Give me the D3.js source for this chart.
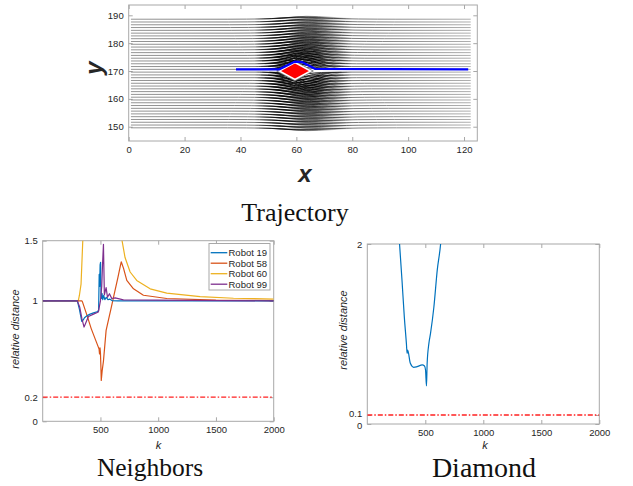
<!DOCTYPE html>
<html><head><meta charset="utf-8">
<script src="https://cdn.jsdelivr.net/npm/d3@7"></script>
<style>body{margin:0;background:#fff}svg{display:block}</style>
</head><body><svg id="c" width="633" height="486"></svg>
<script>
// ---------------- DATA ----------------
// Trajectory panel
const trajXTicks = [0, 20, 40, 60, 80, 100, 120];
const trajYTicks = [150, 160, 170, 180, 190];
const laneY = [149.6,150.6,151.6,152.6,153.6,154.6,155.6,156.6,157.6,158.6,
               159.6,160.6,161.6,162.6,163.6,164.6,165.6,166.6,167.6,168.6,
               169.6,170.6,171.6,172.6,173.6,174.6,175.6,176.6,177.6,178.6,
               179.6,180.6,181.6,182.6,183.6,184.6,185.6,186.6,187.6,188.6];
const laneExtent = [0.8, 122.4];
const corridorCenter = 170.1;
// deflection profile around obstacle
const bumpX     = [38, 44, 48, 52, 56, 60, 64, 68, 72, 76, 80, 86, 92];
const bumpShape = [0, 0.04, 0.12, 0.3, 0.65, 1, 0.9, 0.65, 0.4, 0.22, 0.1, 0.03, 0];
const bandOffset = [0.5, 1.5, 3, 5, 8, 12, 16, 19];
const bandAmp    = [2.8, 2.6, 2.3, 1.9, 1.5, 1.15, 0.95, 0.85];
const bandWidth  = [0.6, 0.62, 0.7, 0.78, 0.9, 1.0, 1.08, 1.12];
const bandDark   = [1, 1, 1, 0.95, 0.8, 0.65, 0.55, 0.5];
const variantScale = [0.5, 0.75, 1.0, 1.2];
const variantShift = [-3, -1, 1, 3.5];
const darkStopX = [45, 54, 67, 80];
const darkStopOpacity = [0, 0.85, 0.85, 0];
const baseStopX = [0, 45, 80, 122];
const baseStopColor = ["#7a7a7a", "#5a5a5a", "#5a5a5a", "#999999"];
const leaderX = [38.4, 53.9, 59.5, 62, 66.7, 121.5];
const leaderY = [170.6, 170.6, 173.4, 173.2, 170.8, 170.6];
const obstacleX = [53.9, 59.5, 65.1, 59.5];
const obstacleY = [170, 173, 170, 167];

// Neighbors panel
const kTicks = [500, 1000, 1500, 2000];
const nbYTicks = [0, 0.2, 1, 1.5];
const robotNames = ["Robot 19", "Robot 58", "Robot 60", "Robot 99"];
const robotColors = ["#0072BD", "#D95319", "#EDB120", "#7E2F8E"];
const robot19K = [0,300,318,338,350,362,375,390,410,440,470,484,489,493,497,501,505,509,514,520,528,538,550,565,580,600,650,2000];
const robot19V = [1,1,0.93,0.83,0.84,0.86,0.87,0.88,0.89,0.9,0.91,0.92,1.22,1.12,1.3,1.32,1.05,1.02,1.06,1.01,1.045,1.01,1.03,1.01,1.015,1.003,1.0,1.0];
const robot58K = [0,340,345,380,420,460,480,488,492,496,500,504,507,515,526,549,569,590,620,650,670,680,700,728,786,872,1074,1500,2000];
const robot58V = [1,1,0.99,0.89,0.77,0.67,0.62,0.6,0.56,0.61,0.57,0.45,0.34,0.42,0.5,0.755,0.84,0.93,1.06,1.19,1.28,1.325,1.27,1.17,1.1,1.047,1.02,1.006,1.003];
const robot60K = [0,300,308,318,332,347,365,660,676,687,713,757,814,930,1074,1363,1652,2000];
const robot60V = [1,1,1.0,1.047,1.14,1.5,2.0,2.3,1.65,1.5,1.36,1.24,1.17,1.1,1.065,1.035,1.022,1.015];
const robot99K = [0,300,320,340,358,370,396,440,482,490,500,511,518,526,534,549,561,578,598,627,699,2000];
const robot99V = [1,1,0.95,0.85,0.783,0.81,0.87,0.89,0.908,0.95,1.0,1.12,1.3,1.47,1.05,1.11,1.03,1.06,1.02,1.025,1.008,1.0];
const neighborThreshold = 0.2;

// Diamond panel
const dmYTicks = [0, 0.1, 2];
const diamondK = [260,278,299,319,337,343,348,371,400,429,473,493,502,510,516,531,545,574,603,632,650];
const diamondV = [2.3,2.0,1.6,1.19,0.896,0.785,0.822,0.674,0.63,0.637,0.656,0.644,0.6,0.422,0.674,0.896,1.007,1.30,1.71,2.0,2.3];
const diamondThreshold = 0.1;

// ---------------- DRAWING ----------------
const svg = d3.select("#c");
const defs = svg.append("defs");
const BOX = "#a8a8a8", TXT = "#262626";
const FONT = "'Liberation Sans', Arial, sans-serif";
const SERIF = "'Liberation Serif', 'Times New Roman', serif";
let clipId = 0;

function frame(x, y, xTicks, yTicks, fmtY, fmtX) {
  const [x0, x1] = x.range(), [y0, y1] = y.range();
  const g = svg.append("g");
  const ax = g.append("g").attr("transform", `translate(0,${y0})`)
    .call(d3.axisBottom(x).tickValues(xTicks).tickSize(-4).tickSizeOuter(0).tickPadding(5).tickFormat(fmtX));
  const axT = g.append("g").attr("transform", `translate(0,${y1})`)
    .call(d3.axisTop(x).tickValues(xTicks).tickSize(-4).tickSizeOuter(0).tickFormat(""));
  const ay = g.append("g").attr("transform", `translate(${x0},0)`)
    .call(d3.axisLeft(y).tickValues(yTicks).tickSize(-4).tickSizeOuter(0).tickPadding(5).tickFormat(fmtY));
  const ayR = g.append("g").attr("transform", `translate(${x1},0)`)
    .call(d3.axisRight(y).tickValues(yTicks).tickSize(-4).tickSizeOuter(0).tickFormat(""));
  [ax, axT, ay, ayR].forEach(a => {
    a.select(".domain").remove();
    a.selectAll("line").attr("stroke", BOX);
    a.selectAll("text").attr("fill", TXT).style("font-family", FONT).style("font-size", "9.5px");
  });
  g.append("rect").attr("x", x0).attr("y", y1).attr("width", x1 - x0).attr("height", y0 - y1)
    .attr("fill", "none").attr("stroke", BOX).attr("stroke-width", 1);
  const id = "clip" + (clipId++);
  defs.append("clipPath").attr("id", id).append("rect")
    .attr("x", x0).attr("y", y1).attr("width", x1 - x0).attr("height", y0 - y1);
  return {id, ay};
}

function hGradient(id, x, stopsX, attrs) {
  const gx0 = x(stopsX[0]), gx1 = x(stopsX[stopsX.length - 1]);
  const grad = defs.append("linearGradient").attr("id", id).attr("gradientUnits", "userSpaceOnUse")
    .attr("x1", gx0).attr("x2", gx1).attr("y1", 0).attr("y2", 0);
  stopsX.forEach((sx, i) => {
    const st = grad.append("stop").attr("offset", (x(sx) - gx0) / (gx1 - gx0));
    attrs(st, i);
  });
}

// ---- Trajectory ----
{
  const x = d3.scaleLinear().domain([0, 124.75]).range([128.7, 477.3]);
  const y = d3.scaleLinear().domain([144.87, 193.7]).range([141, 5]);
  const fr = frame(x, y, trajXTicks, trajYTicks, d3.format("d"), d3.format("d"));
  const plot = svg.append("g").attr("clip-path", `url(#${fr.id})`);
  const amp = d3.scaleLinear().domain(bandOffset).range(bandAmp).clamp(true);
  const wid = d3.scaleLinear().domain(bandOffset).range(bandWidth).clamp(true);
  const dark = d3.scaleLinear().domain(bandOffset).range(bandDark).clamp(true);
  const line = d3.line().x(d => x(d[0])).y(d => y(d[1])).curve(d3.curveMonotoneX);

  hGradient("dark", x, darkStopX, (st, i) => st.attr("stop-color", "#000").attr("stop-opacity", darkStopOpacity[i]));
  hGradient("base", x, baseStopX, (st, i) => st.attr("stop-color", baseStopColor[i]));

  laneY.forEach(ly => {
    const off = ly - corridorCenter, s = Math.sign(off), a = Math.abs(off);
    const base = [[laneExtent[0], ly]];
    bumpX.forEach((bx, j) => base.push([60 + (bx - 60) * wid(a), ly + s * amp(a) * 0.85 * bumpShape[j]]));
    base.push([laneExtent[1], ly]);
    plot.append("path").attr("d", line(base)).attr("fill", "none")
      .attr("stroke", "url(#base)").attr("stroke-width", 0.8);
    variantScale.forEach((vs, v) => {
      const pts = bumpX.map((bx, j) => [60 + (bx - 60) * wid(a) + variantShift[v], ly + s * amp(a) * vs * bumpShape[j]]);
      plot.append("path").attr("d", line(pts)).attr("fill", "none")
        .attr("stroke", "url(#dark)").attr("stroke-opacity", dark(a)).attr("stroke-width", 1);
    });
  });
  const poly = obstacleX.map((ox, i) => [x(ox), y(obstacleY[i])]);
  plot.append("polygon").attr("points", poly.map(p => p.join(",")).join(" "))
    .attr("fill", "#ff0000").attr("stroke", "#777").attr("stroke-width", 3.2);
  plot.append("polygon").attr("points", poly.map(p => p.join(",")).join(" "))
    .attr("fill", "#ff0000").attr("stroke", "#fff").attr("stroke-width", 1.6);
  plot.append("path").attr("d", d3.line().x(d => x(d[0])).y(d => y(d[1]))(leaderX.map((lx, i) => [lx, leaderY[i]])))
    .attr("fill", "none").attr("stroke", "#0000ff").attr("stroke-width", 2.2);

  svg.append("text").attr("x", 305).attr("y", 173).attr("text-anchor", "middle").attr("dominant-baseline", "central")
    .style("font-family", FONT).style("font-weight", "bold").style("font-style", "italic").style("font-size", "24px")
    .attr("fill", TXT).text("x");
  svg.append("text").attr("transform", "translate(93,68) rotate(-90)").attr("text-anchor", "middle").attr("dominant-baseline", "central")
    .style("font-family", FONT).style("font-weight", "bold").style("font-style", "italic").style("font-size", "24px")
    .attr("fill", TXT).text("y");
  svg.append("text").attr("x", 295).attr("y", 212).attr("text-anchor", "middle").attr("dominant-baseline", "central")
    .style("font-family", SERIF).style("font-size", "26px").attr("fill", "#111").text("Trajectory");
}

function axisLabels(cx, cy, lx, ly) {
  svg.append("text").attr("x", cx).attr("y", cy).attr("text-anchor", "middle").attr("dominant-baseline", "central")
    .style("font-family", FONT).style("font-style", "italic").style("font-size", "11px").attr("fill", TXT).text("k");
  svg.append("text").attr("transform", `translate(${lx},${ly}) rotate(-90)`).attr("text-anchor", "middle")
    .attr("dominant-baseline", "central")
    .style("font-family", FONT).style("font-style", "italic").style("font-size", "11px").attr("fill", TXT).text("relative distance");
}

// ---- Neighbors ----
{
  const x = d3.scaleLinear().domain([0, 2000]).range([42.7, 273.7]);
  const y = d3.scaleLinear().domain([0, 1.5]).range([421.3, 240.7]);
  const fr = frame(x, y, kTicks, nbYTicks, d => String(d), d3.format("d"));
  const plot = svg.append("g").attr("clip-path", `url(#${fr.id})`);
  const line = d3.line().x(d => x(d[0])).y(d => y(d[1]));
  const series = [[robot19K, robot19V], [robot58K, robot58V], [robot60K, robot60V], [robot99K, robot99V]];
  [2, 1, 0, 3].forEach(i => {
    const [ks, vs] = series[i];
    plot.append("path").attr("d", line(ks.map((k, j) => [k, vs[j]])))
      .attr("fill", "none").attr("stroke", robotColors[i]).attr("stroke-width", 1.2).attr("stroke-linejoin", "round");
  });
  plot.append("line").attr("x1", x(0)).attr("x2", x(2000)).attr("y1", y(neighborThreshold)).attr("y2", y(neighborThreshold))
    .attr("stroke", "#ff2020").attr("stroke-width", 1.3).attr("stroke-dasharray", "5,2,1.5,2");
  const lg = svg.append("g");
  lg.append("rect").attr("x", 209).attr("y", 243.5).attr("width", 61).attr("height", 46.5)
    .attr("fill", "#fff").attr("stroke", BOX).attr("stroke-width", 1);
  robotNames.forEach((n, i) => {
    const yy = 252.7 + i * 10.5;
    lg.append("line").attr("x1", 210.7).attr("x2", 227.3).attr("y1", yy).attr("y2", yy)
      .attr("stroke", robotColors[i]).attr("stroke-width", 1.3);
    lg.append("text").attr("x", 228.5).attr("y", yy).attr("dominant-baseline", "central")
      .style("font-family", FONT).style("font-size", "9.5px").attr("fill", TXT).text(n);
  });
  axisLabels(158.5, 445, 15, 329);
  svg.append("text").attr("x", 150).attr("y", 467).attr("text-anchor", "middle").attr("dominant-baseline", "central")
    .style("font-family", SERIF).style("font-size", "25.5px").attr("fill", "#111").text("Neighbors");
}

// ---- Diamond ----
{
  const x = d3.scaleLinear().domain([0, 2000]).range([367.3, 599.3]);
  const y = d3.scaleLinear().domain([0, 2]).range([424, 244]);
  const fr = frame(x, y, kTicks, dmYTicks, d => String(d), d3.format("d"));
  fr.ay.selectAll(".tick text").attr("dy", d => d === 0 ? "0.5em" : (d === 0.1 ? "0.2em" : "0.32em"));
  const plot = svg.append("g").attr("clip-path", `url(#${fr.id})`);
  const line = d3.line().x(d => x(d[0])).y(d => y(d[1])).curve(d3.curveMonotoneX);
  plot.append("path").attr("d", line(diamondK.map((k, j) => [k, diamondV[j]])))
    .attr("fill", "none").attr("stroke", robotColors[0]).attr("stroke-width", 1.2);
  plot.append("line").attr("x1", x(0)).attr("x2", x(2000)).attr("y1", y(diamondThreshold)).attr("y2", y(diamondThreshold))
    .attr("stroke", "#ff2020").attr("stroke-width", 1.3).attr("stroke-dasharray", "5,2,1.5,2");
  axisLabels(485, 445, 342.7, 330);
  svg.append("text").attr("x", 484).attr("y", 467).attr("text-anchor", "middle").attr("dominant-baseline", "central")
    .style("font-family", SERIF).style("font-size", "28px").attr("fill", "#111").text("Diamond");
}
</script></body></html>
